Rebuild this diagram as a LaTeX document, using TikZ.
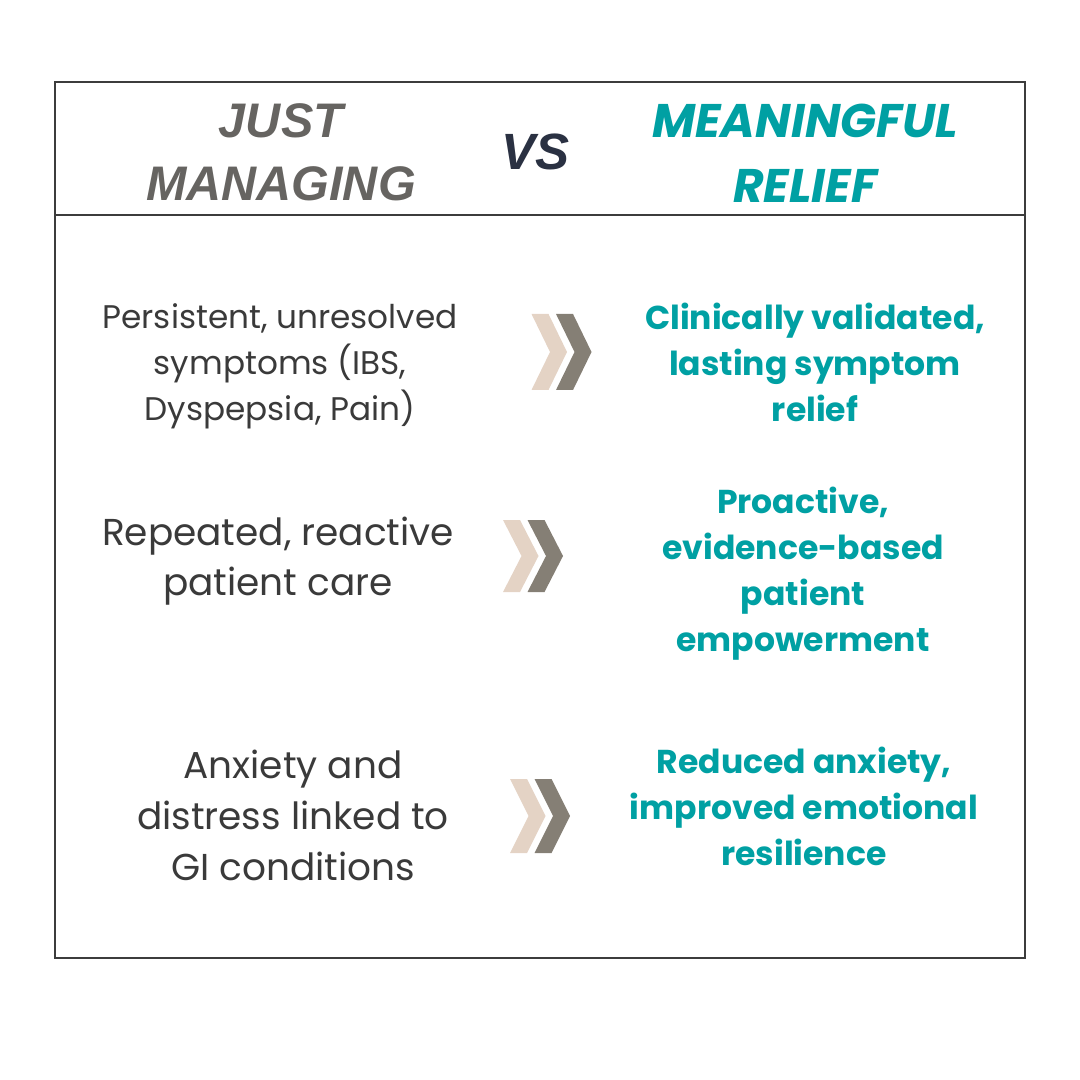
\documentclass[tikz,border=0pt]{standalone}
\usepackage{fontspec}
\setmainfont{Poppins}
\newfontfamily\headsans{Liberation Sans}
\definecolor{tealtxt}{HTML}{00A0A3}
\definecolor{graytxt}{HTML}{666461}
\definecolor{navytxt}{HTML}{2A3142}
\definecolor{bodytxt}{HTML}{3A3A3A}
\definecolor{framecol}{HTML}{3C3C3C}
\definecolor{chevsand}{HTML}{E4D3C5}
\definecolor{chevtaupe}{HTML}{857F75}
\begin{document}
\begin{tikzpicture}[x=0.01cm, y=-0.01cm,
    lefttext/.style={text=bodytxt, align=center, inner sep=0pt},
    righttext/.style={text=tealtxt, align=center, inner sep=0pt,
      font=\bfseries\fontsize{9.4pt}{13.1pt}\selectfont},
    chevlight/.style={fill=chevsand},
    chevdark/.style={fill=chevtaupe}]

  \useasboundingbox (0,0) rectangle (1080,1080);

  % frame and header line
  \draw[framecol, line width=0.4pt] (55,82) rectangle (1025,958);
  \draw[framecol, line width=0.4pt] (55,215) -- (1025,215);

  % header
  \node[text=graytxt, align=center, inner sep=0pt,
    font=\headsans\bfseries\itshape\fontsize{13.8pt}{17.9pt}\selectfont]
    (just) at (281,152) {JUST\\MANAGING};
  \node[text=navytxt, inner sep=0pt,
    font=\headsans\bfseries\itshape\fontsize{14.5pt}{17pt}\selectfont]
    (vs) at (535,152) {VS};
  \node[text=tealtxt, align=center, inner sep=0pt,
    font=\bfseries\itshape\fontsize{13.4pt}{18.5pt}\selectfont]
    (relief) at (805,153) {MEANINGFUL\\RELIEF};

  % rows
  \node[lefttext, font=\fontsize{9.3pt}{13.1pt}\selectfont]
    (symptoms) at (280,366) {Persistent, unresolved\\symptoms (IBS,\\Dyspepsia, Pain)};
  \node[righttext] (validated) at (815,362)
    {Clinically validated,\\lasting symptom\\relief};

  \node[lefttext, font=\fontsize{10.65pt}{14.2pt}\selectfont]
    (care) at (278,561) {Repeated, reactive\\patient care};
  \node[righttext] (empower) at (803,574)
    {Proactive,\\evidence-based\\patient\\empowerment};

  \node[lefttext, font=\fontsize{10.65pt}{14.5pt}\selectfont]
    (anxiety) at (293,815) {Anxiety and\\distress linked to\\GI conditions};
  \node[righttext] (resilience) at (804,806)
    {Reduced anxiety,\\improved emotional\\resilience};

  % chevrons
  \foreach \cx/\cy/\ch in {531.5/352/38, 503/556/36, 510/816/37} {
    \fill[chevlight] (\cx,\cy-\ch) -- ++(17,0) -- ++(18.5,\ch) -- ++(-18.5,\ch)
      -- ++(-17,0) -- ++(18.5,-\ch) -- cycle;
    \fill[chevdark] (\cx+24.5,\cy-\ch) -- ++(17,0) -- ++(18.5,\ch) -- ++(-18.5,\ch)
      -- ++(-17,0) -- ++(18.5,-\ch) -- cycle;
  }

\end{tikzpicture}
\end{document}
